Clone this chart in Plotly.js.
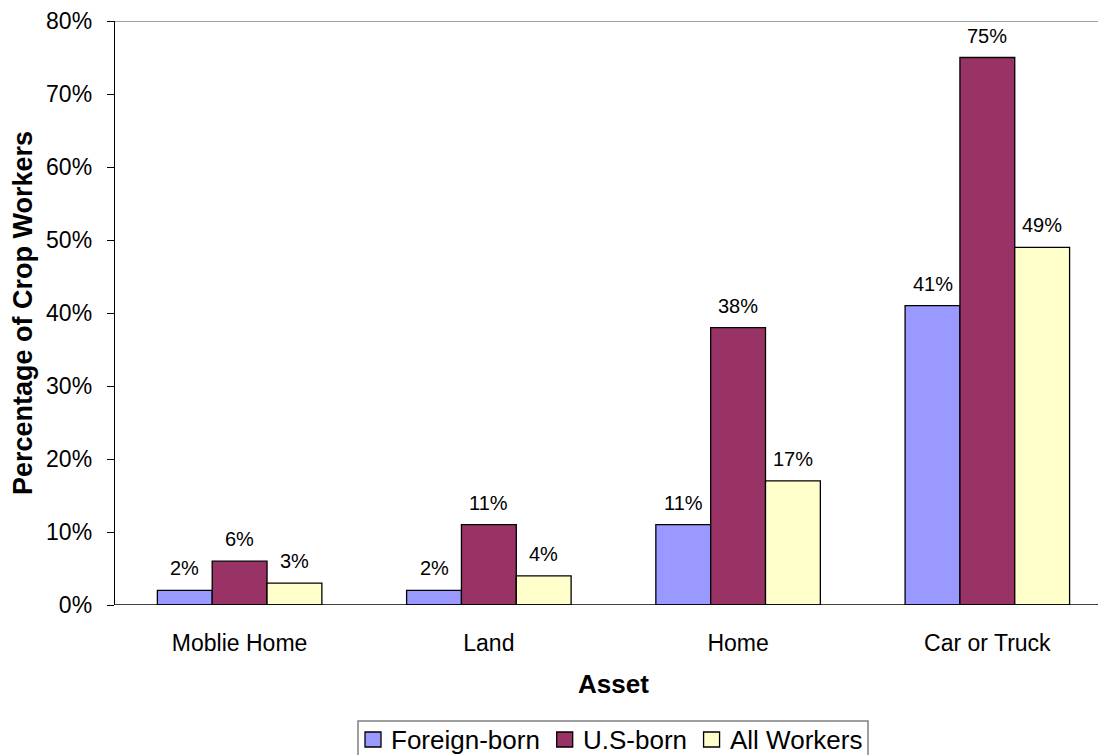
<!DOCTYPE html>
<html>
<head>
<meta charset="utf-8">
<script src="https://cdn.plot.ly/plotly-3.0.1.min.js"></script>
<style>html,body{margin:0;padding:0;background:#fff;}#chart{width:1098px;height:755px;}</style>
</head>
<body>
<div id="chart"></div>
<script>
const categories = ["Moblie Home", "Land", "Home", "Car or Truck"];
const seriesNames = ["Foreign-born", "U.S-born", "All Workers"];
const foreignBorn = [2, 2, 11, 41];
const usBorn = [6, 11, 38, 75];
const allWorkers = [3, 4, 17, 49];
const yTicks = [0, 10, 20, 30, 40, 50, 60, 70, 80];
const yTickLabels = ["0%", "10%", "20%", "30%", "40%", "50%", "60%", "70%", "80%"];
const colors = ["#9999FF", "#993366", "#FFFFCC"];

const FONT = "Liberation Sans, Arial, sans-serif";
const W = 1098, H = 755;
const M = { l: 115, r: 0, t: 21, b: 150 };
const plotW = W - M.l - M.r, plotH = H - M.t - M.b;
const px2x = px => (px - M.l) / plotW;
const py2y = py => (H - M.b - py) / plotH;

const seriesValues = [foreignBorn, usBorn, allWorkers];
const bargap = 0.34;
const barW = (1 - bargap) / seriesValues.length;
const xIdx = categories.map((c, i) => i);

const traces = seriesValues.map((vals, k) => ({
  type: "bar",
  name: seriesNames[k],
  x: xIdx,
  y: vals,
  marker: { color: colors[k], line: { color: "#000", width: 1.3 } },
  hoverinfo: "skip",
  showlegend: false
}));

const annotations = [];
seriesValues.forEach((vals, k) => {
  vals.forEach((v, i) => {
    annotations.push({
      x: i + (k - 1) * barW, y: v, xref: "x", yref: "y",
      text: v + "%", showarrow: false, yanchor: "bottom", yshift: 9,
      font: { family: FONT, size: 20, color: "#000" }
    });
  });
});
// axis titles
annotations.push({
  x: (categories.length - 1) / 2, xref: "x", y: py2y(684), yref: "paper",
  text: "<b>Asset</b>", showarrow: false, yanchor: "middle",
  font: { family: FONT, size: 26, color: "#000" }
});
annotations.push({
  x: px2x(23), xref: "paper", y: 0.5, yref: "paper", textangle: -90,
  text: "<b>Percentage of Crop Workers</b>", showarrow: false,
  xanchor: "center", yanchor: "middle",
  font: { family: FONT, size: 27, color: "#000" }
});

// custom legend (measured text widths)
const legFont = 26;
const ctx = document.createElement("canvas").getContext("2d");
ctx.font = legFont + "px " + FONT;
const tw = seriesNames.map(s => ctx.measureText(s).width);
const boxL = 358, boxR = 868, boxT = 721, boxB = 770;
const padL = 7, sq = 16, sqGap = 8, padR = 8;
const between = (boxR - boxL - padL - padR - seriesNames.length * (sq + sqGap) - tw.reduce((a, b) => a + b, 0)) / (seriesNames.length - 1);
const shapes = [
  { type: "line", xref: "paper", yref: "y", x0: 0, x1: 1, y0: 0, y1: 0, line: { color: "#000", width: 1.3 } },
  { type: "line", xref: "paper", yref: "y", x0: 0, x1: 1, y0: 80, y1: 80, line: { color: "#808080", width: 1.5 } },
  { type: "rect", xref: "paper", yref: "paper", x0: px2x(boxL), x1: px2x(boxR), y0: py2y(boxT), y1: py2y(boxB),
    line: { color: "#808080", width: 1.5 }, fillcolor: "rgba(0,0,0,0)" }
];
let cx = boxL + padL;
const sqTop = 732, sqBot = 747;
seriesNames.forEach((name, k) => {
  shapes.push({ type: "rect", xref: "paper", yref: "paper",
    x0: px2x(cx), x1: px2x(cx + sq), y0: py2y(sqBot), y1: py2y(sqTop),
    line: { color: "#000", width: 1.3 }, fillcolor: colors[k] });
  cx += sq + sqGap;
  annotations.push({ x: px2x(cx), xref: "paper", y: py2y(740), yref: "paper",
    xanchor: "left", yanchor: "middle", showarrow: false, text: name,
    font: { family: FONT, size: legFont, color: "#000" } });
  cx += tw[k] + between;
});

const layout = {
  width: W, height: H,
  margin: M,
  paper_bgcolor: "#fff", plot_bgcolor: "#fff",
  barmode: "group", bargap: bargap, bargroupgap: 0,
  font: { family: FONT, color: "#000" },
  showlegend: false,
  xaxis: {
    type: "linear",
    range: [-0.5, 3.444],
    tickmode: "array", tickvals: xIdx, ticktext: categories,
    ticks: "", showgrid: false, zeroline: false, showline: false,
    tickfont: { family: FONT, size: 23, color: "#000" },
    ticklabelstandoff: 22
  },
  yaxis: {
    range: [0, 80], tickmode: "array", tickvals: yTicks, ticktext: yTickLabels,
    ticks: "outside", ticklen: 7, tickcolor: "#000", tickwidth: 1,
    showline: true, linecolor: "#000", linewidth: 1.3,
    showgrid: false, zeroline: false,
    tickfont: { family: FONT, size: 23, color: "#000" },
    ticklabelstandoff: 10
  },
  shapes: shapes,
  annotations: annotations
};

Plotly.newPlot("chart", traces, layout, { displayModeBar: false, staticPlot: true });
</script>
</body>
</html>
